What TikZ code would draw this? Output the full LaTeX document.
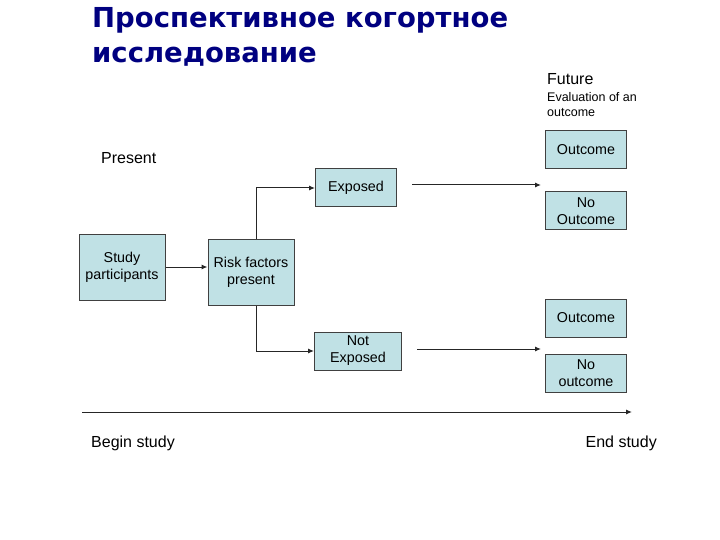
\documentclass[tikz,border=0pt]{standalone}
\usepackage{fontspec}
\setmainfont{Liberation Sans}
\newfontfamily\titlefont{DejaVu Sans}
\usetikzlibrary{positioning,arrows.meta}
\definecolor{boxfill}{RGB}{192,225,229}
\definecolor{boxline}{RGB}{64,64,64}
\definecolor{titleblue}{RGB}{0,0,128}
\begin{document}
\begin{tikzpicture}[
  x=1pt, y=-1pt,
  stage/.style={rectangle, draw=boxline, fill=boxfill, line width=1pt, inner sep=0pt, minimum width=81pt, minimum height=38pt, align=center, font=\fontsize{14.3}{17}\selectfont},
  bigstage/.style={stage, minimum width=86pt, minimum height=66pt},
  flow/.style={-{Latex[length=6pt,width=5pt]}, line width=1pt, draw=black!85},
  label/.style={inner sep=0pt, anchor=west, font=\fontsize{16}{18}\selectfont},
  heading/.style={inner sep=0pt, anchor=base west, text=titleblue, font=\titlefont\bfseries\fontsize{27.5}{33}\selectfont}
]
  \useasboundingbox (0,0) rectangle (720,540);
  % title
  \node[heading] (title) at (92,28) {Проспективное когортное};
  \node[heading] (title2) at (92,63) {исследование};
  % boxes
  \node[bigstage] (study) at (122,267) {Study\\participants};
  \node[bigstage] (risk) at (251,272) {Risk factors\\present};
  \node[stage] (exposed) at (356,188) {Exposed};
  \node[stage, minimum width=87pt] (notexp) at (358,351) {Not\\Exposed};
  \node[stage] (out1) at (586,150) {Outcome};
  \node[stage, below=22pt of out1] (noout1) {No\\Outcome};
  \node[stage] (out2) at (586,318) {Outcome};
  \node[stage, below=16pt of out2] (noout2) {No\\outcome};
  % texts
  \node[label] (present) at (101,158) {Present};
  \node[label] (future) at (547,79) {Future};
  \node[label, align=left, font=\fontsize{12.5}{15}\selectfont] (evaluation) at (547,104.5)
       {Evaluation of an\\outcome};
  \node[label] (begin) at (91,443) {Begin study};
  \node[label, anchor=east] (end) at (657,443) {End study};
  % connectors
  \coordinate (e1) at (412,185);
  \coordinate (e2) at (541,185);
  \coordinate (n1) at (417,349);
  \coordinate (n2) at (541,349);
  \coordinate (t0) at (82,412);
  \coordinate (t1) at (632,412);
  \draw[flow] (study.east |- 0,267) -- (risk.west |- 0,267);
  \draw[flow] ([xshift=5pt]risk.north) |- (exposed.west);
  \draw[flow] ([xshift=5pt]risk.south) |- (notexp.west);
  \draw[flow] (e1) -- (e2);
  \draw[flow] (n1) -- (n2);
  \draw[flow] (t0) -- (t1);
\end{tikzpicture}
\end{document}
